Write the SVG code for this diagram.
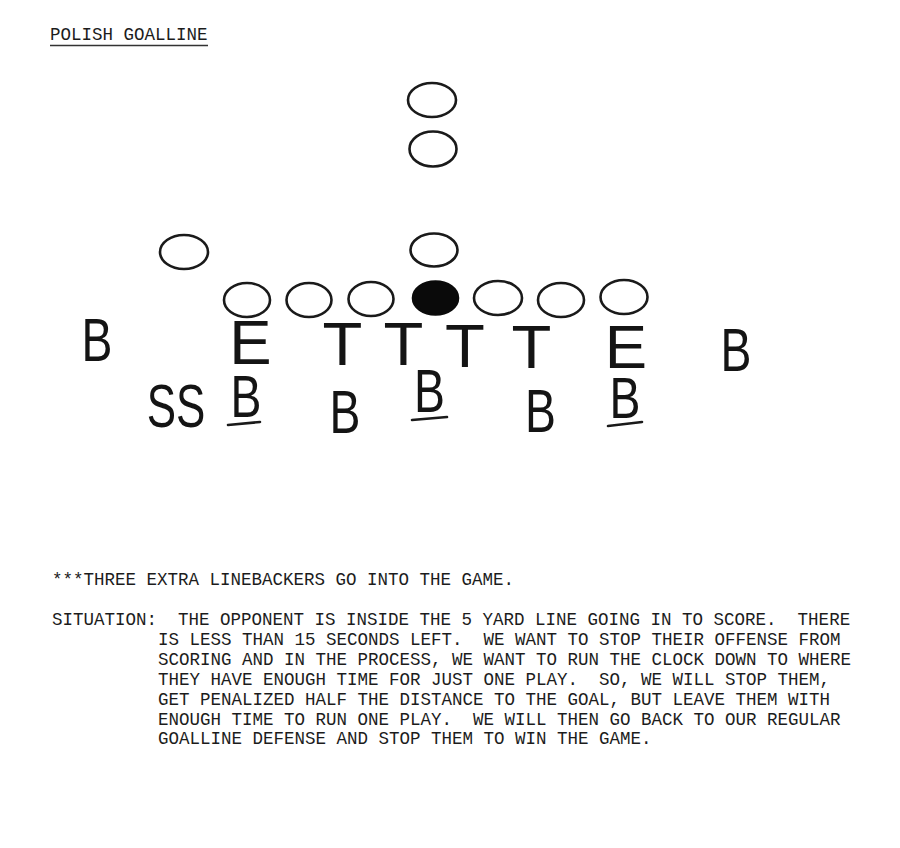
<svg xmlns="http://www.w3.org/2000/svg" width="900" height="848" viewBox="0 0 900 848">
<style>
.pl{fill:none;stroke:#1a1a1a;stroke-width:2.6}
.ctr{fill:#0a0a0a;stroke:#0a0a0a;stroke-width:2.6}
.lt{font-family:"Liberation Sans",Arial,sans-serif;font-size:61px;fill:#141414;text-anchor:middle}
.ul{stroke:#1a1a1a;stroke-width:2.6;stroke-linecap:round}
.tx{font-family:"Liberation Mono","Courier New",monospace;font-size:17.5px;fill:#1c1c1c;white-space:pre}
</style>
<rect width="900" height="848" fill="#ffffff"/>

<g id="title">
<text class="tx" xml:space="preserve" x="50" y="40">POLISH GOALLINE</text>
<line x1="50" y1="45.5" x2="208" y2="45.5" stroke="#333" stroke-width="1.4"/>
</g>

<g id="offense">
<ellipse id="o-top1" class="pl" cx="432" cy="100" rx="24" ry="17"/>
<ellipse id="o-top2" class="pl" cx="433" cy="149" rx="23.5" ry="17.5"/>
<ellipse id="o-wing" class="pl" cx="184" cy="252" rx="24" ry="17"/>
<ellipse id="o-qb" class="pl" cx="434" cy="250" rx="23.5" ry="16.5"/>
<ellipse id="o-l1" class="pl" cx="247" cy="300" rx="23" ry="17"/>
<ellipse id="o-l2" class="pl" cx="309" cy="300" rx="22.5" ry="17"/>
<ellipse id="o-l3" class="pl" cx="371" cy="299" rx="22.5" ry="17"/>
<ellipse id="o-center" class="ctr" cx="435.5" cy="298" rx="22.5" ry="16.5"/>
<ellipse id="o-r1" class="pl" cx="498" cy="298" rx="24" ry="17"/>
<ellipse id="o-r2" class="pl" cx="561" cy="300" rx="23" ry="17"/>
<ellipse id="o-r3" class="pl" cx="624" cy="297" rx="23.5" ry="17"/>
</g>

<g id="defense-front">
<text id="d-b-left" class="lt" transform="translate(97 361) scale(0.76 1)">B</text>
<text id="d-e-left" class="lt" transform="translate(250.5 364) scale(1.04 1.04)">E</text>
<text id="d-t1" class="lt" transform="translate(342.5 365) scale(1.07 1)">T</text>
<text id="d-t2" class="lt" transform="translate(403.5 365) scale(1.07 1)">T</text>
<text id="d-t3" class="lt" transform="translate(465 367) scale(1.07 1)">T</text>
<text id="d-t4" class="lt" transform="translate(531.5 368) scale(1.07 1)">T</text>
<text id="d-e-right" class="lt" transform="translate(626 368) scale(1.04 1)">E</text>
<text id="d-b-right" class="lt" transform="translate(736 371) scale(0.76 1)">B</text>
</g>

<g id="defense-back">
<text id="d-ss" class="lt" transform="translate(176 427) scale(0.72 1)">SS</text>
<g id="d-lb1">
<text class="lt" transform="translate(246 417) scale(0.76 0.97)">B</text>
<line class="ul" x1="228" y1="425" x2="260" y2="422"/>
</g>
<text id="d-b2" class="lt" transform="translate(345 433) scale(0.76 1)">B</text>
<g id="d-lb2">
<text class="lt" transform="translate(429.5 412) scale(0.76 0.99)">B</text>
<line class="ul" x1="412" y1="420" x2="447" y2="417"/>
</g>
<text id="d-b4" class="lt" transform="translate(540.5 432) scale(0.76 1)">B</text>
<g id="d-lb3">
<text class="lt" transform="translate(625 418) scale(0.76 0.95)">B</text>
<line class="ul" x1="608" y1="426" x2="642" y2="422"/>
</g>
</g>

<g id="notes">
<text class="tx" xml:space="preserve" x="52" y="585">***THREE EXTRA LINEBACKERS GO INTO THE GAME.</text>
<text class="tx" xml:space="preserve" x="52" y="625">SITUATION:  THE OPPONENT IS INSIDE THE 5 YARD LINE GOING IN TO SCORE.  THERE</text>
<text class="tx" xml:space="preserve" x="158" y="644.9">IS LESS THAN 15 SECONDS LEFT.  WE WANT TO STOP THEIR OFFENSE FROM</text>
<text class="tx" xml:space="preserve" x="158" y="664.8">SCORING AND IN THE PROCESS, WE WANT TO RUN THE CLOCK DOWN TO WHERE</text>
<text class="tx" xml:space="preserve" x="158" y="684.7">THEY HAVE ENOUGH TIME FOR JUST ONE PLAY.  SO, WE WILL STOP THEM,</text>
<text class="tx" xml:space="preserve" x="158" y="704.6">GET PENALIZED HALF THE DISTANCE TO THE GOAL, BUT LEAVE THEM WITH</text>
<text class="tx" xml:space="preserve" x="158" y="724.5">ENOUGH TIME TO RUN ONE PLAY.  WE WILL THEN GO BACK TO OUR REGULAR</text>
<text class="tx" xml:space="preserve" x="158" y="744.4">GOALLINE DEFENSE AND STOP THEM TO WIN THE GAME.</text>
</g>
</svg>
